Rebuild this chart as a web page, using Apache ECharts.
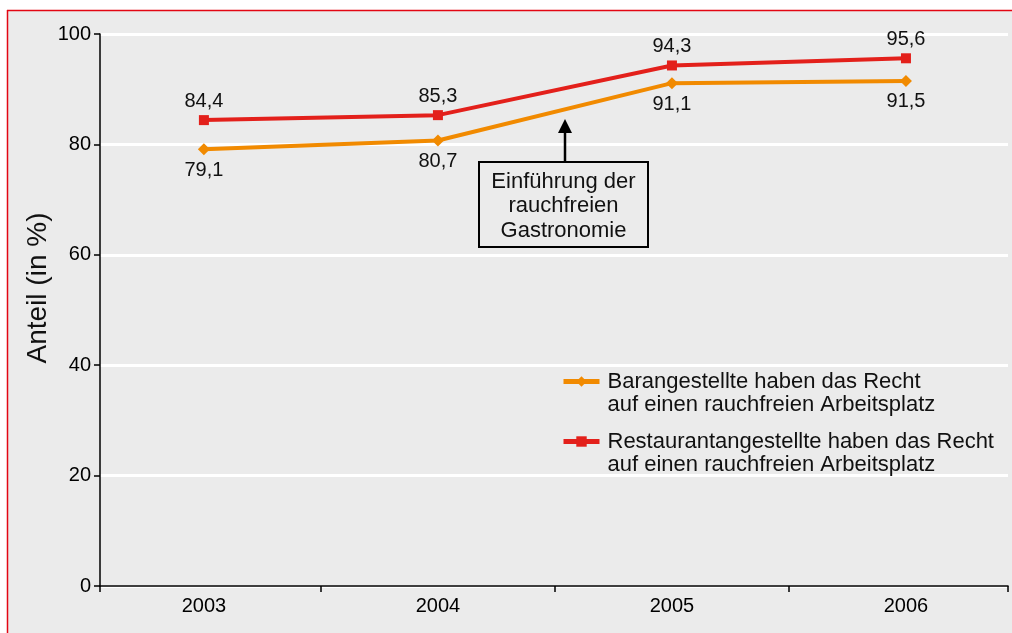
<!DOCTYPE html>
<html>
<head>
<meta charset="utf-8">
<script src="https://cdn.jsdelivr.net/npm/echarts@6/dist/echarts.min.js"></script>
<style>html,body{margin:0;padding:0;background:#fff}#c{width:1012px;height:633px}</style>
</head>
<body>
<div id="c"></div>
<script>
const years = [2003, 2004, 2005, 2006];
const barValues = [79.1, 80.7, 91.1, 91.5];
const restValues = [84.4, 85.3, 94.3, 95.6];
const seriesNames = [
  'Barangestellte haben das Recht\nauf einen rauchfreien Arbeitsplatz',
  'Restaurantangestellte haben das Recht\nauf einen rauchfreien Arbeitsplatz'
];
const yTicks = [0, 20, 40, 60, 80, 100];
const yTitle = 'Anteil (in %)';
const annotation = 'Einführung der\nrauchfreien\nGastronomie';

const FONT = 'Liberation Sans, Arial, sans-serif';
const ORANGE = '#f18a00';
const RED = '#e3201b';
const fmt = p => String(p.value[1]).replace('.', ',');

const xMin = 2002.556, xMax = 2006.436;
const chart = echarts.init(document.getElementById('c'));
chart.setOption({
  backgroundColor: '#ebebeb',
  animation: false,
  textStyle: { fontFamily: FONT },
  grid: { left: 100, right: 4, top: 34, bottom: 47 },
  xAxis: {
    type: 'value', min: xMin, max: xMax,
    axisLine: { lineStyle: { color: '#000', width: 1.5 } },
    axisTick: { show: true, length: 6, lineStyle: { color: '#000', width: 1.5 },
      customValues: [xMin, 2003.5, 2004.5, 2005.5, xMax] },
    axisLabel: { customValues: years, color: '#000', fontSize: 20, margin: 10,
      formatter: v => String(Math.round(v)) },
    splitLine: { show: false }
  },
  yAxis: {
    type: 'value', min: 0, max: 100, interval: 20,
    axisLine: { show: true, lineStyle: { color: '#000', width: 1.5 } },
    axisTick: { show: true, length: 6, lineStyle: { color: '#000', width: 1.5 } },
    axisLabel: { color: '#000', fontSize: 20, margin: 9 },
    splitLine: { show: true, lineStyle: { color: '#fff', width: 3 } }
  },
  legend: {
    left: 556, top: 342, orient: 'vertical', itemGap: -9,
    itemWidth: 36, itemHeight: 13,
    data: seriesNames,
    formatter: name => ' \n' + name,
    lineStyle: { width: 5 },
    textStyle: { fontSize: 22, lineHeight: 23, color: '#111', padding: [0, 0, 0, 3] }
  },
  series: [
    {
      name: seriesNames[0], type: 'line',
      data: years.map((y, i) => [y, barValues[i]]),
      symbol: 'diamond', symbolSize: 12,
      lineStyle: { color: ORANGE, width: 4 }, itemStyle: { color: ORANGE },
      label: { show: true, position: 'bottom', distance: 5, formatter: fmt, color: '#111', fontSize: 20 },
      z: 3
    },
    {
      name: seriesNames[1], type: 'line',
      data: years.map((y, i) => [y, restValues[i]]),
      symbol: 'rect', symbolSize: 10,
      lineStyle: { color: RED, width: 4 }, itemStyle: { color: RED },
      label: { show: true, position: 'top', distance: 4, formatter: fmt, color: '#111', fontSize: 20 },
      z: 4
    }
  ],
  graphic: [
    { type: 'rect', shape: { x: 0, y: 0, width: 1012, height: 10 }, style: { fill: '#fff' }, z: 50 },
    { type: 'rect', shape: { x: 0, y: 0, width: 7, height: 633 }, style: { fill: '#fff' }, z: 50 },
    { type: 'line', shape: { x1: 7, y1: 10.5, x2: 1012, y2: 10.5 }, style: { stroke: '#e30613', lineWidth: 1.5 }, z: 51 },
    { type: 'line', shape: { x1: 7.5, y1: 10, x2: 7.5, y2: 633 }, style: { stroke: '#e30613', lineWidth: 1.5 }, z: 51 },
    { type: 'text', x: 38, y: 288, rotation: Math.PI / 2,
      style: { text: yTitle, fontSize: 28, fontFamily: FONT, fill: '#111', align: 'center', verticalAlign: 'middle' }, z: 50 },
    { type: 'rect', shape: { x: 479, y: 162, width: 169, height: 85 }, style: { fill: '#ebebeb', stroke: '#000', lineWidth: 2 }, z: 50 },
    { type: 'text', x: 563.5, y: 206,
      style: { text: annotation, fontSize: 22, lineHeight: 24.5, fontFamily: FONT, fill: '#111', align: 'center', verticalAlign: 'middle' }, z: 51 },
    { type: 'line', shape: { x1: 565, y1: 162, x2: 565, y2: 131 }, style: { stroke: '#000', lineWidth: 2.5 }, z: 50 },
    { type: 'polygon', shape: { points: [[558, 133], [572, 133], [565, 119]] }, style: { fill: '#000' }, z: 50 }
  ]
});
</script>
</body>
</html>
